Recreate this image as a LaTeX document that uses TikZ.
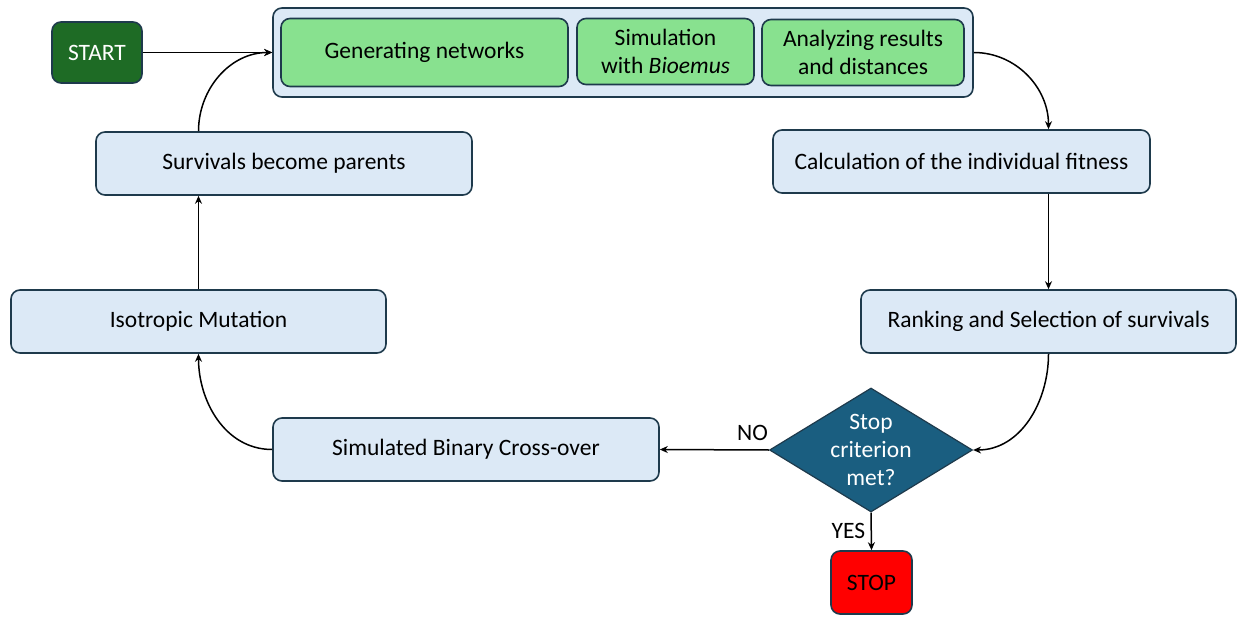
\documentclass[tikz,border=0pt]{standalone}
\usepackage{fontspec}
\setmainfont{Carlito}
\usetikzlibrary{shapes.geometric,arrows.meta}
\definecolor{boxfill}{HTML}{DCE9F6}
\definecolor{boxline}{HTML}{1E3A4C}
\definecolor{greenfill}{HTML}{88E18F}
\definecolor{startgreen}{HTML}{1E6B25}
\definecolor{diamfill}{HTML}{1A5E80}
\definecolor{stopred}{HTML}{FF0000}
\tikzset{
  box/.style={draw=boxline, line width=1.6pt, fill=boxfill, rounded corners=9pt, align=center, inner sep=0pt},
  gbox/.style={draw=boxline, line width=1.6pt, fill=greenfill, rounded corners=9pt, align=center, inner sep=0pt},
  conn/.style={line width=1.5pt, -{Stealth[length=8pt,width=7pt]}}
}
\begin{document}
\begin{tikzpicture}[x=1pt,y=-1pt, every node/.style={font=\fontsize{23.5}{28}\selectfont}]
\useasboundingbox (0,0) rectangle (1238,617);
% nodes
\node[box, draw=boxline, fill=startgreen, text=white, minimum width=90, minimum height=61] (start) at (97,52.5) {START};
\node[box, minimum width=700, minimum height=89] (cont) at (623,52.5) {};
\node[gbox, minimum width=287, minimum height=68] (gen) at (424.5,52.5) {Generating networks};
\node[gbox, minimum width=177, minimum height=66] (sim) at (665.5,51.5) {Simulation\\with \textit{Bioemus}};
\node[gbox, minimum width=202, minimum height=66] (ana) at (863,52.5) {Analyzing results\\and distances};
\node[box, minimum width=376, minimum height=63] (surv) at (284,163.5) {Survivals become parents};
\node[box, minimum width=377, minimum height=63] (calc) at (961.5,161.5) {Calculation of the individual fitness};
\node[box, minimum width=375, minimum height=63] (iso) at (198.5,321.5) {Isotropic Mutation};
\node[box, minimum width=375, minimum height=63] (rank) at (1048.5,321.5) {Ranking and Selection of survivals};
\node[box, minimum width=386, minimum height=63] (cross) at (466,449.5) {Simulated Binary Cross-over};
\node[diamond, draw=boxline, line width=1.2pt, fill=diamfill, minimum width=203, minimum height=124, inner sep=0pt] (dec) at (871,450) {};
\node[text=white, align=center] (dectext) at (dec.center) {Stop\\criterion\\met?};
\node[box, fill=stopred, minimum width=81, minimum height=63] (stop) at (871.5,582.5) {STOP};
% connectors
\draw[conn] (start.east) -- (cont.west);
\draw[conn] (iso.north |- surv.north) to[out=90,in=180] (cont.west);
\draw[conn] (iso.north) -- (iso.north |- surv.south);
\draw[conn] (cross.west) to[out=180,in=-90] (iso.south);
\draw[conn] (cont.east) to[out=0,in=90] (calc.north -| rank.north);
\draw[conn] (calc.south -| rank.north) -- (rank.north);
\draw[conn] (rank.south) to[out=-90,in=0] (dec.east);
\draw[conn] (dec.west) -- node[above, pos=0.15, yshift=5pt] (no) {NO} (cross.east);
\draw[conn] (dec.south) -- node[left, pos=0.5, xshift=-2pt] (yes) {YES} (stop.north);
\end{tikzpicture}
\end{document}
